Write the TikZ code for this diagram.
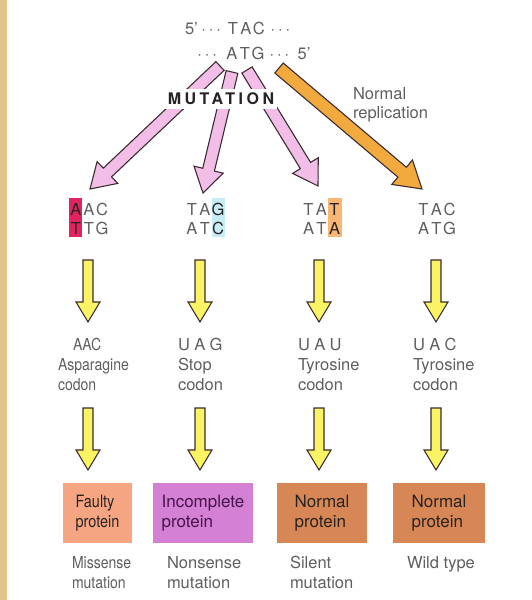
\documentclass[tikz,border=0pt]{standalone}
\usepackage{fontspec}
\setmainfont{TeX Gyre Heros}
\newfontfamily\narrowfont{TeX Gyre Heros}[FakeStretch=0.85]
\newfontfamily\spacedfont{TeX Gyre Heros}[LetterSpace=30]
\newfontfamily\mutfont{TeX Gyre Heros}[LetterSpace=22]
\usetikzlibrary{calc}
\definecolor{tanstrip}{RGB}{224,196,138}
\definecolor{txt}{RGB}{95,95,95}
\definecolor{darktxt}{RGB}{40,35,35}
\definecolor{pinkA}{RGB}{242,190,232}
\definecolor{orangeA}{RGB}{242,170,62}
\definecolor{yellowA}{RGB}{250,244,100}
\definecolor{outlineA}{RGB}{60,45,50}
\definecolor{hlred}{RGB}{225,35,95}
\definecolor{hlblue}{RGB}{200,236,246}
\definecolor{hlorange}{RGB}{250,182,115}
\definecolor{boxsalmon}{RGB}{245,165,130}
\definecolor{boxviolet}{RGB}{212,128,212}
\definecolor{boxorange}{RGB}{215,135,85}
\definecolor{violettxt}{RGB}{70,20,75}
\newcommand\ltr[1]{\makebox[13pt]{#1}}
\newcommand\mdots{\makebox[7.5pt]{·}\makebox[7.5pt]{·}\makebox[7.5pt]{·}}
% fat arrow: style, from, to, shaft half width, head half width, head length
\newcommand\fatarrow[6]{%
  \coordinate (fatH) at ($(#3)!#6!(#2)$);
  \draw[#1] ($(#2)!#4!90:(#3)$) -- ($(fatH)!#4!90:(#3)$) -- ($(fatH)!#5!90:(#3)$)
    -- (#3) -- ($(fatH)!#5!-90:(#3)$) -- ($(fatH)!#4!-90:(#3)$)
    -- ($(#2)!#4!-90:(#3)$) -- cycle;}
\begin{document}
\begin{tikzpicture}[x=1pt,y=-1pt,
  every node/.style={inner sep=0pt, outer sep=0pt, text=txt, font=\fontsize{16.5}{19}\selectfont},
  pinkarrow/.style={fill=pinkA, draw=outlineA, line width=1.1pt, line join=miter},
  orangearrow/.style={fill=orangeA, draw=outlineA, line width=1.1pt, line join=miter},
  yarrow/.style={fill=yellowA, draw=outlineA, line width=1.1pt, line join=miter},
  codon/.style={align=center, anchor=north},
  mrna/.style={align=left, anchor=north west, font=\fontsize{16.5}{20}\selectfont},
  protbox/.style={minimum height=60pt, align=left, text=darktxt, font=\fontsize{17}{19.5}\selectfont},
  caption/.style={align=left, anchor=north west, font=\fontsize{16.5}{20}\selectfont}]
\useasboundingbox (0,0) rectangle (531,600);
\fill[white] (0,0) rectangle (531,600);
\fill[tanstrip] (0,0) rectangle (7,600);

% top DNA strands (one node, two lines)
\node[align=left, anchor=north west, font=\fontsize{16.5}{25}\selectfont] (strands) at (185,22.5)
  {5'\hspace{2pt}\mdots\hspace{4pt}\ltr{T}\ltr{A}\ltr{C}\hspace{3.75pt}\mdots\\
   \hspace*{11pt}\mdots\hspace{7pt}\ltr{A}\ltr{T}\ltr{G}\hspace{3.75pt}\mdots\hspace{7pt}5'};

% arrow endpoints
\coordinate (pm1) at (232,72);  \coordinate (pt2) at (203,193);
\coordinate (pr1) at (247,70);  \coordinate (pt3) at (318,186);
\coordinate (pl1) at (220,66);  \coordinate (pt1) at (90,189);
\coordinate (or1) at (279,68);  \coordinate (ot4) at (422,189);

\fatarrow{pinkarrow}{pm1}{pt2}{6pt}{15pt}{24pt}
\fatarrow{pinkarrow}{pr1}{pt3}{6pt}{15pt}{24pt}
\fatarrow{pinkarrow}{pl1}{pt1}{6pt}{15pt}{24pt}
\fatarrow{orangearrow}{or1}{ot4}{6.5pt}{16pt}{26pt}

\node[fill=white, inner xsep=3pt, inner ysep=4pt, text=darktxt, font=\fontsize{16}{18}\bfseries\mutfont] (mut) at (221,99) {MUTATION};
\node[align=left, anchor=north west, font=\fontsize{16.5}{19}\selectfont] (normrep) at (353,87) {Normal\\replication};

% highlights
\fill[hlred] (68.5,198) rectangle (81.5,237);
\fill[hlblue] (211.5,198) rectangle (224.5,237);
\fill[hlorange] (328,198) rectangle (342,237);

% DNA codons
\node[codon] (d1) at (89,203.3) {\ltr{\textcolor{darktxt}{A}}\ltr{A}\ltr{C}\\\ltr{\textcolor{darktxt}{T}}\ltr{T}\ltr{G}};
\node[codon] (d2) at (205,203.3) {\ltr{T}\ltr{A}\ltr{\textcolor{darktxt}{G}}\\\ltr{A}\ltr{T}\ltr{\textcolor{darktxt}{C}}};
\node[codon] (d3) at (321.5,203.3) {\ltr{T}\ltr{A}\ltr{\textcolor{darktxt}{T}}\\\ltr{A}\ltr{T}\ltr{\textcolor{darktxt}{A}}};
\node[codon] (d4) at (436.5,203.3) {\ltr{T}\ltr{A}\ltr{C}\\\ltr{A}\ltr{T}\ltr{G}};

% yellow arrows row 1
\coordinate (ya1) at (88,260);  \coordinate (yb1) at (88,322);
\coordinate (ya2) at (200,260); \coordinate (yb2) at (200,322);
\coordinate (ya3) at (319,260); \coordinate (yb3) at (319,322);
\coordinate (ya4) at (436,260); \coordinate (yb4) at (436,322);
\foreach \i in {1,2,3,4}{\fatarrow{yarrow}{ya\i}{yb\i}{5pt}{12pt}{20pt}}

% mRNA codons
\node[mrna] (m1) at (58,338) {\hspace*{15pt}{\narrowfont AAC}\\{\narrowfont Asparagine}\\{\narrowfont codon}};
\node[mrna] (m2) at (178,338) {{\spacedfont UAG}\\Stop\\codon};
\node[mrna] (m3) at (298,338) {{\spacedfont UAU}\\Tyrosine\\codon};
\node[mrna] (m4) at (413,338) {{\spacedfont UAC}\\Tyrosine\\codon};

% yellow arrows row 2
\coordinate (yc1) at (88,408);  \coordinate (yd1) at (88,470);
\coordinate (yc2) at (200,408); \coordinate (yd2) at (200,470);
\coordinate (yc3) at (319,408); \coordinate (yd3) at (319,470);
\coordinate (yc4) at (436,408); \coordinate (yd4) at (436,470);
\foreach \i in {1,2,3,4}{\fatarrow{yarrow}{yc\i}{yd\i}{5pt}{12pt}{20pt}}

% protein boxes
\node[protbox, fill=boxsalmon, minimum width=69pt] (p1) at (97.5,513) {{\narrowfont Faulty}\\{\narrowfont protein}};
\node[protbox, fill=boxviolet, minimum width=100pt, text=violettxt] (p2) at (203,513) {Incomplete\\protein};
\node[protbox, fill=boxorange, minimum width=90pt] (p3) at (322,513) {Normal\\protein};
\node[protbox, fill=boxorange, minimum width=92pt] (p4) at (439,513) {Normal\\protein};

% captions
\node[caption] (c1) at (72,556) {{\narrowfont Missense}\\{\narrowfont mutation}};
\node[caption] (c2) at (167,556) {Nonsense\\mutation};
\node[caption] (c3) at (290,556) {Silent\\mutation};
\node[caption] (c4) at (407,556) {Wild type};
\end{tikzpicture}
\end{document}
